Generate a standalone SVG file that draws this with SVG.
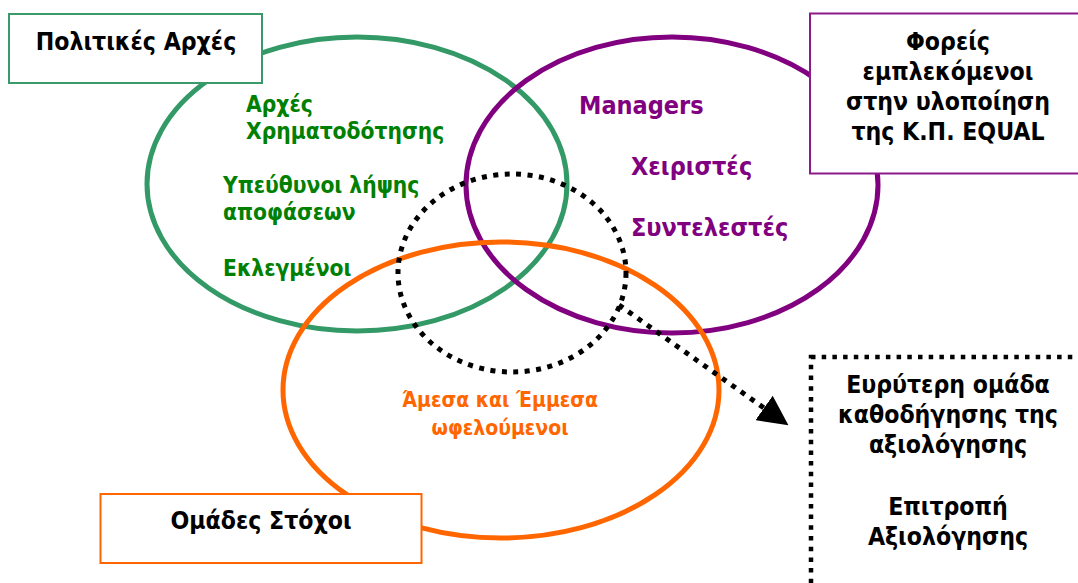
<svg xmlns="http://www.w3.org/2000/svg" width="1078" height="583" viewBox="0 0 1078 583">
<defs>
<style>
text{font-family:"DejaVu Sans Condensed","DejaVu Sans","Liberation Sans",sans-serif;font-weight:bold;font-stretch:condensed}
.lbl{font-size:24.6px;fill:#000;text-anchor:middle}
.g{font-size:22.6px;fill:#008000}
.p{font-size:25px;fill:#800080}
.o{font-size:21px;fill:#FF6600;text-anchor:middle}
.ell{fill:none;stroke-width:5}
.box{fill:#fff;stroke-width:2}
.dot{fill:none;stroke:#000;stroke-width:5;stroke-dasharray:5 6.5}
</style>
<marker id="ah" markerUnits="userSpaceOnUse" markerWidth="30" markerHeight="30" viewBox="0 0 28 28" refX="0" refY="14" orient="auto">
<path d="M0,0 L28,14 L0,28 z" fill="#000"/>
</marker>
</defs>
<rect width="1078" height="583" fill="#fff"/>
<g id="sets">
<ellipse id="set-green" class="ell" cx="357" cy="184" rx="210" ry="147" stroke="#339966"/>
<ellipse id="set-purple" class="ell" cx="672" cy="185" rx="206" ry="148" stroke="#800080"/>
<ellipse id="set-orange" class="ell" cx="501" cy="390" rx="218" ry="148" stroke="#FF6600"/>
<ellipse id="set-core" class="dot" cx="512" cy="273" rx="114" ry="99"/>
</g>
<g id="connectors">
<line class="dot" x1="619" y1="305" x2="764" y2="408" marker-end="url(#ah)"/>
</g>
<g id="node-politikes">
<rect class="box" x="9" y="14" width="253" height="69" stroke="#3A9A6A"/>
<text class="lbl" x="136" y="50">Πολιτικές Αρχές</text>
</g>
<g id="node-green-items">
<text class="g" x="246" y="112">Αρχές</text>
<text class="g" x="246" y="139">Χρηματοδότησης</text>
<text class="g" x="223" y="193">Υπεύθυνοι λήψης</text>
<text class="g" x="223" y="220">αποφάσεων</text>
<text class="g" x="223" y="276">Εκλεγμένοι</text>
</g>
<g id="node-foreis">
<rect class="box" x="810" y="13.5" width="300" height="160" stroke="#8B1A8B"/>
<text class="lbl" x="948" y="50">Φορείς</text>
<text class="lbl" x="948" y="80">εμπλεκόμενοι</text>
<text class="lbl" x="948" y="110">στην υλοποίηση</text>
<text class="lbl" x="948" y="140">της Κ.Π. EQUAL</text>
</g>
<g id="node-purple-items">
<text class="p" x="579" y="114">Managers</text>
<text class="p" x="631" y="175">Χειριστές</text>
<text class="p" x="631" y="236">Συντελεστές</text>
</g>
<g id="node-orange-items">
<text class="o" x="500" y="407">Άμεσα και Έμμεσα</text>
<text class="o" x="500" y="435">ωφελούμενοι</text>
</g>
<g id="node-omades">
<rect class="box" x="100.5" y="494" width="321" height="69" stroke="#FF6600"/>
<text class="lbl" x="261" y="529">Ομάδες Στόχοι</text>
</g>
<g id="node-evaluation">
<rect x="811" y="357" width="300" height="300" fill="none" stroke="#000" stroke-width="4.5" stroke-dasharray="4.5 6.2"/>
<text class="lbl" x="948" y="393">Ευρύτερη ομάδα</text>
<text class="lbl" x="948" y="423">καθοδήγησης της</text>
<text class="lbl" x="948" y="453">αξιολόγησης</text>
<text class="lbl" x="948" y="515">Επιτροπή</text>
<text class="lbl" x="948" y="545">Αξιολόγησης</text>
</g>
</svg>
